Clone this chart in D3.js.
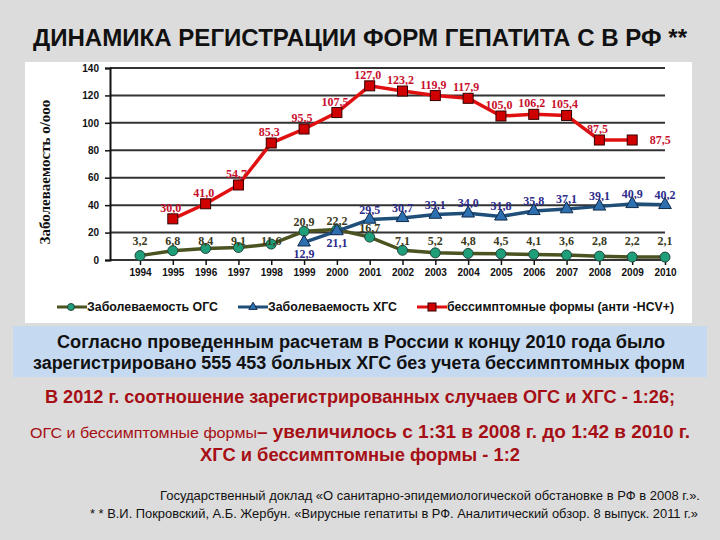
<!DOCTYPE html>
<html>
<head>
<meta charset="utf-8">
<script src="https://cdn.jsdelivr.net/npm/d3@7"></script>
<style>
  body { margin: 0; background: #dcdcdc; }
  svg { display: block; }
  .sans { font-family: "Liberation Sans", Arial, sans-serif; }
</style>
</head>
<body>
<svg id="chart" width="720" height="540"></svg>
<script>
var years = [1994, 1995, 1996, 1997, 1998, 1999, 2000, 2001, 2002, 2003, 2004, 2005, 2006, 2007, 2008, 2009, 2010];
var ogsValues = [3.2, 6.8, 8.4, 9.1, 11.6, 20.9, 22.2, 16.7, 7.1, 5.2, 4.8, 4.5, 4.1, 3.6, 2.8, 2.2, 2.1];
var hgsYears = [1999, 2000, 2001, 2002, 2003, 2004, 2005, 2006, 2007, 2008, 2009, 2010];
var hgsValues = [12.9, 21.1, 29.5, 30.7, 33.1, 34.0, 31.8, 35.8, 37.1, 39.1, 40.9, 40.2];
var hcvYears = [1995, 1996, 1997, 1998, 1999, 2000, 2001, 2002, 2003, 2004, 2005, 2006, 2007, 2008, 2009];
var hcvValues = [30.0, 41.0, 54.7, 85.3, 95.5, 107.5, 127.0, 123.2, 119.9, 117.9, 105.0, 106.2, 105.4, 87.5, 87.5];
var yTicks = [0, 20, 40, 60, 80, 100, 120, 140];
var legendLabels = ["Заболеваемость ОГС", "Заболеваемость ХГС", "бессимптомные формы (анти -HCV+)"];

var svg = d3.select("#chart");
var fmt = function(v) { return v.toFixed(1).replace(".", ","); };
var serif = "Liberation Serif, Times New Roman, serif";

// helper for stretched text lines
function textLine(x0, y0, len, size, bold, color, str) {
  return svg.append("text").attr("class", "sans")
    .attr("x", x0).attr("y", y0)
    .attr("textLength", len).attr("lengthAdjust", "spacingAndGlyphs")
    .attr("font-size", size).attr("font-weight", bold ? "bold" : "normal")
    .attr("fill", color).text(str);
}

// title
textLine(33, 46, 654, 24, true, "#111", "ДИНАМИКА РЕГИСТРАЦИИ ФОРМ ГЕПАТИТА С В РФ **");

// white chart panel
svg.append("rect").attr("x", 25).attr("y", 62).attr("width", 667).attr("height", 261).attr("fill", "#fff");

var x = d3.scalePoint().domain(years).range([140, 665]);
var y = d3.scaleLinear().domain([0, 140]).range([260, 68]);

// gridlines
svg.append("g").selectAll("line").data(yTicks).enter().append("line")
  .attr("x1", 110).attr("x2", 665)
  .attr("y1", function(d) { return y(d); }).attr("y2", function(d) { return y(d); })
  .attr("stroke", "#333").attr("stroke-width", 2);

// y axis
var yAxis = svg.append("g").attr("transform", "translate(110,0)")
  .call(d3.axisLeft(y).tickValues(yTicks).tickSize(5).tickPadding(6));
yAxis.select(".domain").attr("stroke", "#111").attr("stroke-width", 2);
yAxis.selectAll(".tick line").attr("stroke", "#111").attr("stroke-width", 1.5);
yAxis.selectAll("text").attr("font-family", "Liberation Sans, Arial, sans-serif")
  .attr("font-weight", "bold").attr("font-size", 10).attr("fill", "#111");

// x axis
var xAxis = svg.append("g").attr("transform", "translate(0,260)")
  .call(d3.axisBottom(x).tickSize(5).tickPadding(4));
xAxis.select(".domain").remove();
xAxis.selectAll(".tick line").attr("stroke", "#111").attr("stroke-width", 1.5);
xAxis.selectAll("text").attr("font-family", "Liberation Sans, Arial, sans-serif")
  .attr("font-weight", "bold").attr("font-size", 10).attr("fill", "#111");

// y axis title
svg.append("text")
  .attr("transform", "translate(50,172) rotate(-90)")
  .attr("text-anchor", "middle")
  .attr("font-family", serif)
  .attr("font-weight", "bold").attr("font-size", 15).attr("fill", "#111")
  .text("Заболеваемость о/ооо");

var line = d3.line().x(function(d) { return x(d[0]); }).y(function(d) { return y(d[1]); });

var ogs = years.map(function(d, i) { return [d, ogsValues[i]]; });
var hgs = hgsYears.map(function(d, i) { return [d, hgsValues[i]]; });
var hcv = hcvYears.map(function(d, i) { return [d, hcvValues[i]]; });

// OGS
svg.append("path").datum(ogs).attr("d", line).attr("fill", "none")
  .attr("stroke", "#4b5320").attr("stroke-width", 3.5);
svg.append("g").selectAll("circle").data(ogs).enter().append("circle")
  .attr("cx", function(d) { return x(d[0]); }).attr("cy", function(d) { return y(d[1]); })
  .attr("r", 5).attr("fill", "#1f9e7a").attr("stroke", "#22443a").attr("stroke-width", 1);

// HGS
svg.append("path").datum(hgs).attr("d", line).attr("fill", "none")
  .attr("stroke", "#1f4e79").attr("stroke-width", 3.5);
svg.append("g").selectAll("path").data(hgs).enter().append("path")
  .attr("transform", function(d) { return "translate(" + x(d[0]) + "," + y(d[1]) + ")"; })
  .attr("d", d3.symbol().type(d3.symbolTriangle).size(70))
  .attr("fill", "#2e6fb0").attr("stroke", "#0d2a4a").attr("stroke-width", 1);

// HCV
svg.append("path").datum(hcv).attr("d", line).attr("fill", "none")
  .attr("stroke", "#e01010").attr("stroke-width", 3.5);
svg.append("g").selectAll("rect").data(hcv).enter().append("rect")
  .attr("x", function(d) { return x(d[0]) - 5; }).attr("y", function(d) { return y(d[1]) - 5; })
  .attr("width", 10).attr("height", 10)
  .attr("fill", "#d00000").attr("stroke", "#300").attr("stroke-width", 1);

// value labels
svg.append("g").selectAll("text").data(ogs).enter().append("text")
  .attr("x", function(d) { return x(d[0]); })
  .attr("y", function(d, i) { return i < 5 || i > 7 ? 245 : y(d[1]) - 5; })
  .attr("text-anchor", "middle").attr("font-family", serif).attr("font-weight", "bold")
  .attr("font-size", 12).attr("fill", "#3a3a1a")
  .text(function(d) { return fmt(d[1]); });

svg.append("g").selectAll("text").data(hgs).enter().append("text")
  .attr("x", function(d) { return x(d[0]); })
  .attr("y", function(d, i) { return i < 2 ? y(d[1]) + 16 : y(d[1]) - 6; })
  .attr("text-anchor", "middle").attr("font-family", serif).attr("font-weight", "bold")
  .attr("font-size", 12).attr("fill", "#2b2b8a")
  .text(function(d) { return fmt(d[1]); });

svg.append("g").selectAll("text").data(hcv).enter().append("text")
  .attr("x", function(d, i) { return i == hcv.length - 1 ? x(d[0]) + 28 : x(d[0]) - 2; })
  .attr("y", function(d, i) { return i == hcv.length - 1 ? y(d[1]) + 4 : y(d[1]) - 7; })
  .attr("text-anchor", "middle").attr("font-family", serif).attr("font-weight", "bold")
  .attr("font-size", 12).attr("fill", "#c8102e")
  .text(function(d) { return fmt(d[1]); });

// legend
var legendX = [57, 238, 417];
var legendLen = [131, 129, 227];
var legendColors = ["#4b5320", "#1f4e79", "#e01010"];
var lg = svg.append("g").attr("transform", "translate(0,307)");
legendLabels.forEach(function(label, i) {
  var g = lg.append("g").attr("transform", "translate(" + legendX[i] + ",0)");
  g.append("line").attr("x1", 0).attr("x2", 30).attr("stroke", legendColors[i]).attr("stroke-width", 3);
  if (i == 0) g.append("circle").attr("cx", 14).attr("r", 3.5).attr("fill", "#1f9e7a").attr("stroke", "#22443a");
  if (i == 1) g.append("path").attr("transform", "translate(15,0)")
    .attr("d", d3.symbol().type(d3.symbolTriangle).size(30)).attr("fill", "#2e6fb0").attr("stroke", "#0d2a4a");
  if (i == 2) g.append("rect").attr("x", 11).attr("y", -4).attr("width", 8).attr("height", 8)
    .attr("fill", "#d00000").attr("stroke", "#300");
  g.append("text").attr("class", "sans").attr("x", 30).attr("y", 4)
    .attr("textLength", legendLen[i]).attr("lengthAdjust", "spacingAndGlyphs")
    .attr("font-size", 12).attr("font-weight", "bold").attr("fill", "#111").text(label);
});

// blue info box
svg.append("rect").attr("x", 13).attr("y", 326).attr("width", 694).attr("height", 51).attr("fill", "#c5d9f1");
textLine(57, 348, 608, 18, true, "#111", "Согласно проведенным расчетам в России к концу 2010 года было");
textLine(33, 369, 652, 18, true, "#111", "зарегистрировано 555 453 больных ХГС без учета бессимптомных форм");

// red notes
textLine(45, 403, 630, 18, true, "#a50f15", "В 2012 г. соотношение зарегистрированных случаев ОГС и ХГС - 1:26;");
textLine(30, 438, 227, 15, false, "#a50f15", "ОГС и бессимптомные формы");
textLine(257, 438, 433, 18, true, "#a50f15", "– увеличилось с 1:31 в 2008 г. до 1:42 в 2010 г.");
textLine(200, 461, 320, 18, true, "#a50f15", "ХГС и бессимптомные формы  - 1:2");

// sources
textLine(160, 500, 540, 13, false, "#111", "Государственный доклад «О санитарно-эпидемиологической обстановке в РФ  в 2008 г.».");
textLine(90, 518, 608, 13, false, "#111", "* * В.И. Покровский, А.Б. Жербун. «Вирусные гепатиты в РФ. Аналитический обзор. 8 выпуск. 2011 г.»");
</script>
</body>
</html>
